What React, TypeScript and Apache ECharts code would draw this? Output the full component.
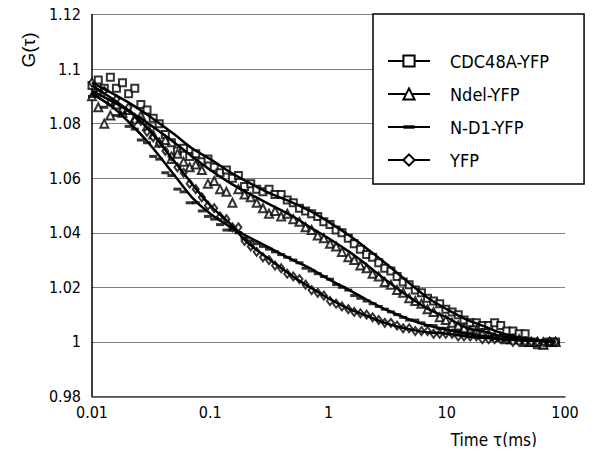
import React, { useEffect, useRef } from "react";
import * as echarts from "echarts";

const seriesNames = ["CDC48A-YFP", "Ndel-YFP", "N-D1-YFP", "YFP"];
const xAxisTitle = "Time τ(ms)";
const yAxisTitle = "G(τ)";

const tau = [
  0.0100, 0.0113, 0.0127, 0.0143, 0.0161, 0.0181, 0.0204, 0.0230, 0.0259, 0.0292,
  0.0329, 0.0370, 0.0417, 0.0469, 0.0528, 0.0595, 0.0670, 0.0754, 0.0849, 0.0956,
  0.108, 0.121, 0.137, 0.154, 0.173, 0.195, 0.220, 0.247, 0.279, 0.314,
  0.353, 0.398, 0.448, 0.504, 0.568, 0.640, 0.720, 0.811, 0.913, 1.03,
  1.16, 1.30, 1.47, 1.65, 1.86, 2.10, 2.36, 2.66, 2.99, 3.37,
  3.80, 4.28, 4.81, 5.42, 6.11, 6.88, 7.74, 8.72, 9.82, 11.1,
  12.5, 14.0, 15.8, 17.8, 20.0, 22.6, 25.4, 28.6, 32.2, 36.3,
  40.9, 46.0, 51.8, 58.4, 65.7, 74.0, 83.3,
];

const cdc48a = [
  1.094, 1.096, 1.093, 1.097, 1.093, 1.095, 1.091, 1.093, 1.087, 1.085,
  1.082, 1.080, 1.076, 1.073, 1.070, 1.071, 1.068, 1.069, 1.066, 1.067,
  1.064, 1.062, 1.063, 1.060, 1.061, 1.057, 1.058, 1.056, 1.055, 1.056,
  1.054, 1.054, 1.052, 1.051, 1.049, 1.048, 1.047, 1.046, 1.044, 1.043,
  1.041, 1.040, 1.038, 1.036, 1.034, 1.032, 1.031, 1.029, 1.027, 1.026,
  1.024, 1.022, 1.021, 1.019, 1.018, 1.016, 1.015, 1.014, 1.012, 1.011,
  1.010, 1.008, 1.007, 1.007, 1.006, 1.006, 1.007, 1.006, 1.004, 1.004,
  1.003, 1.003, 1.000, 0.999, 0.999, 1.000, 1.000,
];

const ndel = [
  1.090, 1.086, 1.080, 1.083, 1.087, 1.084, 1.085, 1.082, 1.083, 1.079,
  1.076, 1.073, 1.074, 1.067, 1.069, 1.066, 1.064, 1.065, 1.063, 1.058,
  1.059, 1.056, 1.055, 1.051, 1.056, 1.054, 1.053, 1.051, 1.049, 1.047,
  1.048, 1.046, 1.047, 1.045, 1.044, 1.042, 1.041, 1.039, 1.038, 1.036,
  1.035, 1.033, 1.031, 1.030, 1.028, 1.027, 1.025, 1.024, 1.022, 1.021,
  1.019, 1.018, 1.016, 1.015, 1.014, 1.012, 1.011, 1.009, 1.008, 1.007,
  1.006, 1.005, 1.004, 1.004, 1.003, 1.003, 1.002, 1.002, 1.001, 1.001,
  1.001, 1.000, 1.000, 1.000, 0.999, 1.000, 1.000,
];

const nd1 = [
  1.090, 1.092, 1.086, 1.087, 1.083, 1.084, 1.079, 1.078, 1.074, 1.073,
  1.068, 1.067, 1.062, 1.061, 1.056, 1.055, 1.051, 1.051, 1.048, 1.046,
  1.045, 1.043, 1.041, 1.041, 1.040, 1.038, 1.037, 1.036, 1.035, 1.034,
  1.033, 1.032, 1.031, 1.030, 1.029, 1.027, 1.026, 1.025, 1.024, 1.023,
  1.021, 1.020, 1.019, 1.017, 1.016, 1.015, 1.014, 1.013, 1.012, 1.011,
  1.010, 1.009, 1.008, 1.008, 1.007, 1.006, 1.006, 1.005, 1.005, 1.004,
  1.004, 1.003, 1.003, 1.002, 1.002, 1.002, 1.001, 1.001, 1.001, 1.000,
  1.000, 1.000, 1.000, 1.000, 1.000, 0.999, 1.000,
];

const yfp = [
  1.095, 1.091, 1.092, 1.088, 1.089, 1.085, 1.086, 1.081, 1.081, 1.077,
  1.075, 1.073, 1.070, 1.068, 1.064, 1.062, 1.058, 1.056, 1.053, 1.050,
  1.049, 1.046, 1.045, 1.042, 1.042, 1.037, 1.035, 1.033, 1.031, 1.030,
  1.028, 1.027, 1.025, 1.024, 1.023, 1.021, 1.019, 1.018, 1.017, 1.015,
  1.014, 1.013, 1.012, 1.011, 1.0105, 1.010, 1.009, 1.008, 1.007, 1.007,
  1.006, 1.005, 1.005, 1.004, 1.004, 1.004, 1.003, 1.003, 1.003, 1.003,
  1.002, 1.002, 1.002, 1.002, 1.001, 1.001, 1.001, 1.001, 1.001, 1.000,
  1.000, 1.000, 1.000, 1.000, 1.000, 1.000, 1.000,
];

const fitTau = [
  0.01, 0.015, 0.02, 0.03, 0.05, 0.07, 0.1, 0.15, 0.2, 0.3, 0.5, 0.7,
  1, 1.5, 2, 3, 5, 7, 10, 15, 20, 30, 50, 83,
];

const fitCdc48a = [
  1.095, 1.091, 1.088, 1.083, 1.076, 1.071, 1.067, 1.062, 1.059, 1.055, 1.051, 1.048,
  1.044, 1.039, 1.035, 1.029, 1.021, 1.016, 1.012, 1.008, 1.006, 1.003, 1.001, 1.000,
];
const fitNdel = [
  1.092, 1.088, 1.085, 1.080, 1.073, 1.068, 1.063, 1.058, 1.055, 1.051, 1.046, 1.042,
  1.038, 1.033, 1.029, 1.023, 1.016, 1.012, 1.009, 1.005, 1.004, 1.002, 1.001, 1.000,
];
const fitNd1 = [
  1.091, 1.086, 1.081, 1.073, 1.061, 1.053, 1.047, 1.042, 1.039, 1.035, 1.030, 1.027,
  1.023, 1.019, 1.016, 1.012, 1.008, 1.006, 1.0045, 1.003, 1.002, 1.001, 1.0005, 1.000,
];
const fitYfp = [
  1.094, 1.089, 1.085, 1.078, 1.066, 1.058, 1.050, 1.043, 1.037, 1.031, 1.024, 1.020,
  1.016, 1.012, 1.010, 1.007, 1.0045, 1.0035, 1.003, 1.002, 1.0015, 1.001, 1.0005, 1.000,
];

const dataSets = [cdc48a, ndel, nd1, yfp];
const fitSets = [fitCdc48a, fitNdel, fitNd1, fitYfp];

const dashPath = "path://M0,-3.5L0,-3.5M0,0L10,0L10,3L0,3ZM10,6.5L10,6.5";
const legendSymbols = ["emptyRect", "emptyTriangle", dashPath, "emptyDiamond"];
const markerSymbols = ["emptyRect", "emptyTriangle", "rect", "emptyDiamond"];
const markerSizes: any[] = [7, 8, [8, 3], [6, 8]];

const narrow = "'DejaVu Sans Condensed', sans-serif";
const regular = "'Liberation Sans', Arial, sans-serif";

export default function App() {
  const ref = useRef<HTMLDivElement>(null);
  useEffect(() => {
    if (!ref.current) return;
    const chart = echarts.init(ref.current, null, { renderer: "svg" });
    const fitSeries = seriesNames.map((name, k) => ({
      name,
      type: "line",
      data: fitTau.map((t, i) => [t, fitSets[k][i]]),
      smooth: 0.35,
      showSymbol: false,
      symbol: legendSymbols[k],
      lineStyle: { color: "#000", width: 2.5 },
      itemStyle: { color: "#000" },
      z: 4,
    }));
    const scatterSeries = seriesNames.map((name, k) => ({
      name,
      type: "scatter",
      data: tau.map((t, i) => [t, dataSets[k][i]]),
      symbol: markerSymbols[k],
      symbolSize: markerSizes[k],
      itemStyle: { color: "#000", borderWidth: 1.5 },
      z: 3,
    }));
    chart.setOption({
      animation: false,
      backgroundColor: "#fff",
      grid: { left: 92, right: 31, top: 14.5, bottom: 58.5 },
      xAxis: {
        type: "log",
        logBase: 10,
        min: 0.01,
        max: 100,
        name: xAxisTitle,
        nameLocation: "end",
        nameGap: -28,
        nameMoveOverlap: false,
        nameTextStyle: {
          color: "#000",
          fontSize: 17,
          lineHeight: 18,
          fontFamily: narrow,
          align: "right",
          verticalAlign: "top",
          padding: [34, 0, 0, 0],
        },
        axisLine: { show: true, lineStyle: { color: "#444", width: 1.5 } },
        axisTick: { show: false },
        minorTick: { show: false },
        splitLine: { show: false },
        axisLabel: {
          color: "#000",
          fontSize: 16,
          fontFamily: narrow,
          margin: 8,
          formatter: (v: number) => String(+Number(v).toPrecision(3)),
        },
      },
      yAxis: {
        type: "value",
        min: 0.98,
        max: 1.12,
        interval: 0.02,
        name: yAxisTitle,
        nameLocation: "end",
        nameRotate: 90,
        nameGap: -35.5,
        nameMoveOverlap: false,
        nameTextStyle: {
          color: "#000",
          fontSize: 19,
          lineHeight: 20,
          fontFamily: regular,
          align: "center",
          verticalAlign: "bottom",
          padding: [0, 0, 54, 0],
        },
        axisLine: { show: true, lineStyle: { color: "#000", width: 1.5 } },
        axisTick: { show: false },
        splitLine: { show: true, lineStyle: { color: "#808080", width: 1.2 } },
        axisLabel: {
          color: "#000",
          fontSize: 16,
          fontFamily: narrow,
          margin: 11,
          formatter: (v: number) => String(+Number(v).toFixed(2)),
        },
      },
      legend: {
        data: seriesNames,
        orient: "vertical",
        left: 373,
        top: 14,
        padding: [38, 35, 15, 14],
        itemWidth: 42,
        itemHeight: 14,
        itemGap: 15,
        backgroundColor: "#fff",
        borderColor: "#000",
        borderWidth: 1.5,
        borderRadius: 0,
        selectedMode: false,
        formatter: (name: string) => `{s|}{t|${name}}`,
        textStyle: {
          color: "#000",
          fontSize: 18,
          lineHeight: 18,
          fontFamily: narrow,
          rich: {
            s: { width: 15, lineHeight: 18 },
            t: { color: "#000", fontSize: 18, lineHeight: 18, fontFamily: narrow },
          },
        },
      },
      series: [...fitSeries, ...scatterSeries],
    });
    return () => chart.dispose();
  }, []);
  return <div ref={ref} style={{ width: 596, height: 455, margin: -8 }} />;
}
